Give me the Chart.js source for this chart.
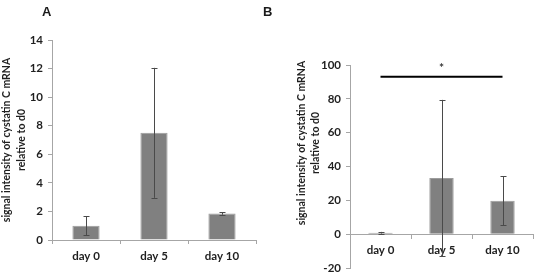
<!DOCTYPE html>
<html><head><meta charset="utf-8">
<script src="https://cdn.jsdelivr.net/npm/chart.js@4"></script>
<style>
html,body{margin:0;padding:0;background:#fff;}
body{width:537px;height:280px;position:relative;overflow:hidden;}
#ca{position:absolute;left:0;top:0;}
#cb{position:absolute;left:268px;top:0;}
.pl{position:absolute;font:bold 13px "Liberation Sans",Arial,sans-serif;color:#1a1a1a;line-height:16px;}
</style></head><body>
<canvas id="ca" width="268" height="280"></canvas>
<canvas id="cb" width="269" height="280"></canvas>
<div class="pl" style="left:42px;top:4px">A</div>
<div class="pl" style="left:263px;top:4px">B</div>
<script>
const categories = ['day 0', 'day 5', 'day 10'];
const valuesA = [1.0, 7.5, 1.85];
const errorsA = [0.65, 4.55, 0.08];
const valuesB = [0.9, 33.2, 19.8];
const errorsB = [0.5, 46.2, 14.4];
const ticksA = [0, 2, 4, 6, 8, 10, 12, 14];
const ticksB = [-20, 0, 20, 40, 60, 80, 100];
const yTitle = ['signal intensity of cystatin C mRNA', 'relative to d0'];
const sigFrom = 0, sigTo = 2, sigValue = 93, sigLabel = '*';

const FONT = 'Lato, "Open Sans", sans-serif';
const TXT = '#1f1f1f';
const AXIS = '#a6a6a6';

function errorBarPlugin(values, errors) {
  return {
    id: 'errbars',
    afterDatasetsDraw(chart) {
      const ctx = chart.ctx, xs = chart.scales.x, ys = chart.scales.y;
      ctx.save();
      ctx.strokeStyle = '#4a4a4a';
      ctx.lineWidth = 1;
      values.forEach((v, i) => {
        const x = Math.round(xs.getPixelForValue(i)) + 0.5;
        const t = ys.getPixelForValue(v + errors[i]);
        const b = ys.getPixelForValue(v - errors[i]);
        ctx.beginPath();
        ctx.moveTo(x, t); ctx.lineTo(x, b);
        ctx.moveTo(x - 3, Math.round(t) + 0.5); ctx.lineTo(x + 3, Math.round(t) + 0.5);
        ctx.moveTo(x - 3, Math.round(b) + 0.5); ctx.lineTo(x + 3, Math.round(b) + 0.5);
        ctx.stroke();
      });
      ctx.restore();
    }
  };
}

function yTitlePlugin(x1, cy, lh) {
  return {
    id: 'ytitle',
    afterDraw(chart) {
      const ctx = chart.ctx;
      ctx.save();
      ctx.fillStyle = TXT;
      ctx.font = 'bold 10.5px ' + FONT;
      ctx.textAlign = 'center';
      ctx.textBaseline = 'middle';
      ctx.translate(x1, cy);
      ctx.rotate(-Math.PI / 2);
      yTitle.forEach((line, i) => ctx.fillText(line, 0, i * lh));
      ctx.restore();
    }
  };
}

const sigPlugin = {
  id: 'sig',
  afterDatasetsDraw(chart) {
    const ctx = chart.ctx, xs = chart.scales.x, ys = chart.scales.y;
    const x1 = xs.getPixelForValue(sigFrom), x2 = xs.getPixelForValue(sigTo);
    const y = ys.getPixelForValue(sigValue);
    ctx.save();
    ctx.strokeStyle = '#000';
    ctx.lineWidth = 2;
    ctx.beginPath(); ctx.moveTo(x1, y); ctx.lineTo(x2, y); ctx.stroke();
    ctx.fillStyle = '#333';
    ctx.font = 'bold 12px ' + FONT;
    ctx.textAlign = 'center'; ctx.textBaseline = 'middle';
    ctx.fillText(sigLabel, (x1 + x2) / 2, y - 9);
    ctx.restore();
  }
};

function makeChart(id, values, errors, ticks, opts) {
  return new Chart(document.getElementById(id), {
    type: 'bar',
    data: {
      labels: categories,
      datasets: [{
        data: values,
        backgroundColor: '#808080',
        borderColor: '#9c9c9c',
        borderWidth: 1,
        barPercentage: 0.4,
        categoryPercentage: 1
      }]
    },
    options: {
      responsive: false,
      animation: false,
      devicePixelRatio: 1,
      layout: { padding: opts.padding },
      plugins: { legend: { display: false }, tooltip: { enabled: false } },
      scales: {
        x: {
          position: opts.xPos,
          grid: { display: true, drawOnChartArea: false, drawTicks: true, tickLength: 4, color: AXIS, offset: true },
          border: { display: true, color: AXIS, width: 1 },
          ticks: { color: TXT, font: { family: FONT, size: 11.5, weight: 'bold' }, padding: 5, maxRotation: 0 },
          afterFit: s => { s.height = opts.xHeight; }
        },
        y: {
          min: ticks[0], max: ticks[ticks.length - 1],
          ticks: { stepSize: ticks[1] - ticks[0], color: TXT, font: { family: FONT, size: 11.5, weight: 'bold' }, padding: 5 },
          grid: { display: true, drawOnChartArea: false, drawTicks: true, tickLength: 4, color: AXIS },
          border: { display: true, color: AXIS, width: 1 },
          afterFit: s => { s.width = opts.yWidth; }
        }
      }
    },
    plugins: opts.plugins
  });
}

makeChart('ca', valuesA, errorsA, ticksA, {
  padding: { top: 40, right: 12, bottom: 0, left: 0 },
  xPos: 'bottom', xHeight: 40, yWidth: 52,
  plugins: [errorBarPlugin(valuesA, errorsA), yTitlePlugin(7, 140, 14.5)]
});
makeChart('cb', valuesB, errorsB, ticksB, {
  padding: { top: 65, right: 4, bottom: 7, left: 0 },
  xPos: { y: 0 }, xHeight: 0, yWidth: 82,
  plugins: [errorBarPlugin(valuesB, errorsB), sigPlugin, yTitlePlugin(34, 143, 14)]
});
</script>
</body></html>
